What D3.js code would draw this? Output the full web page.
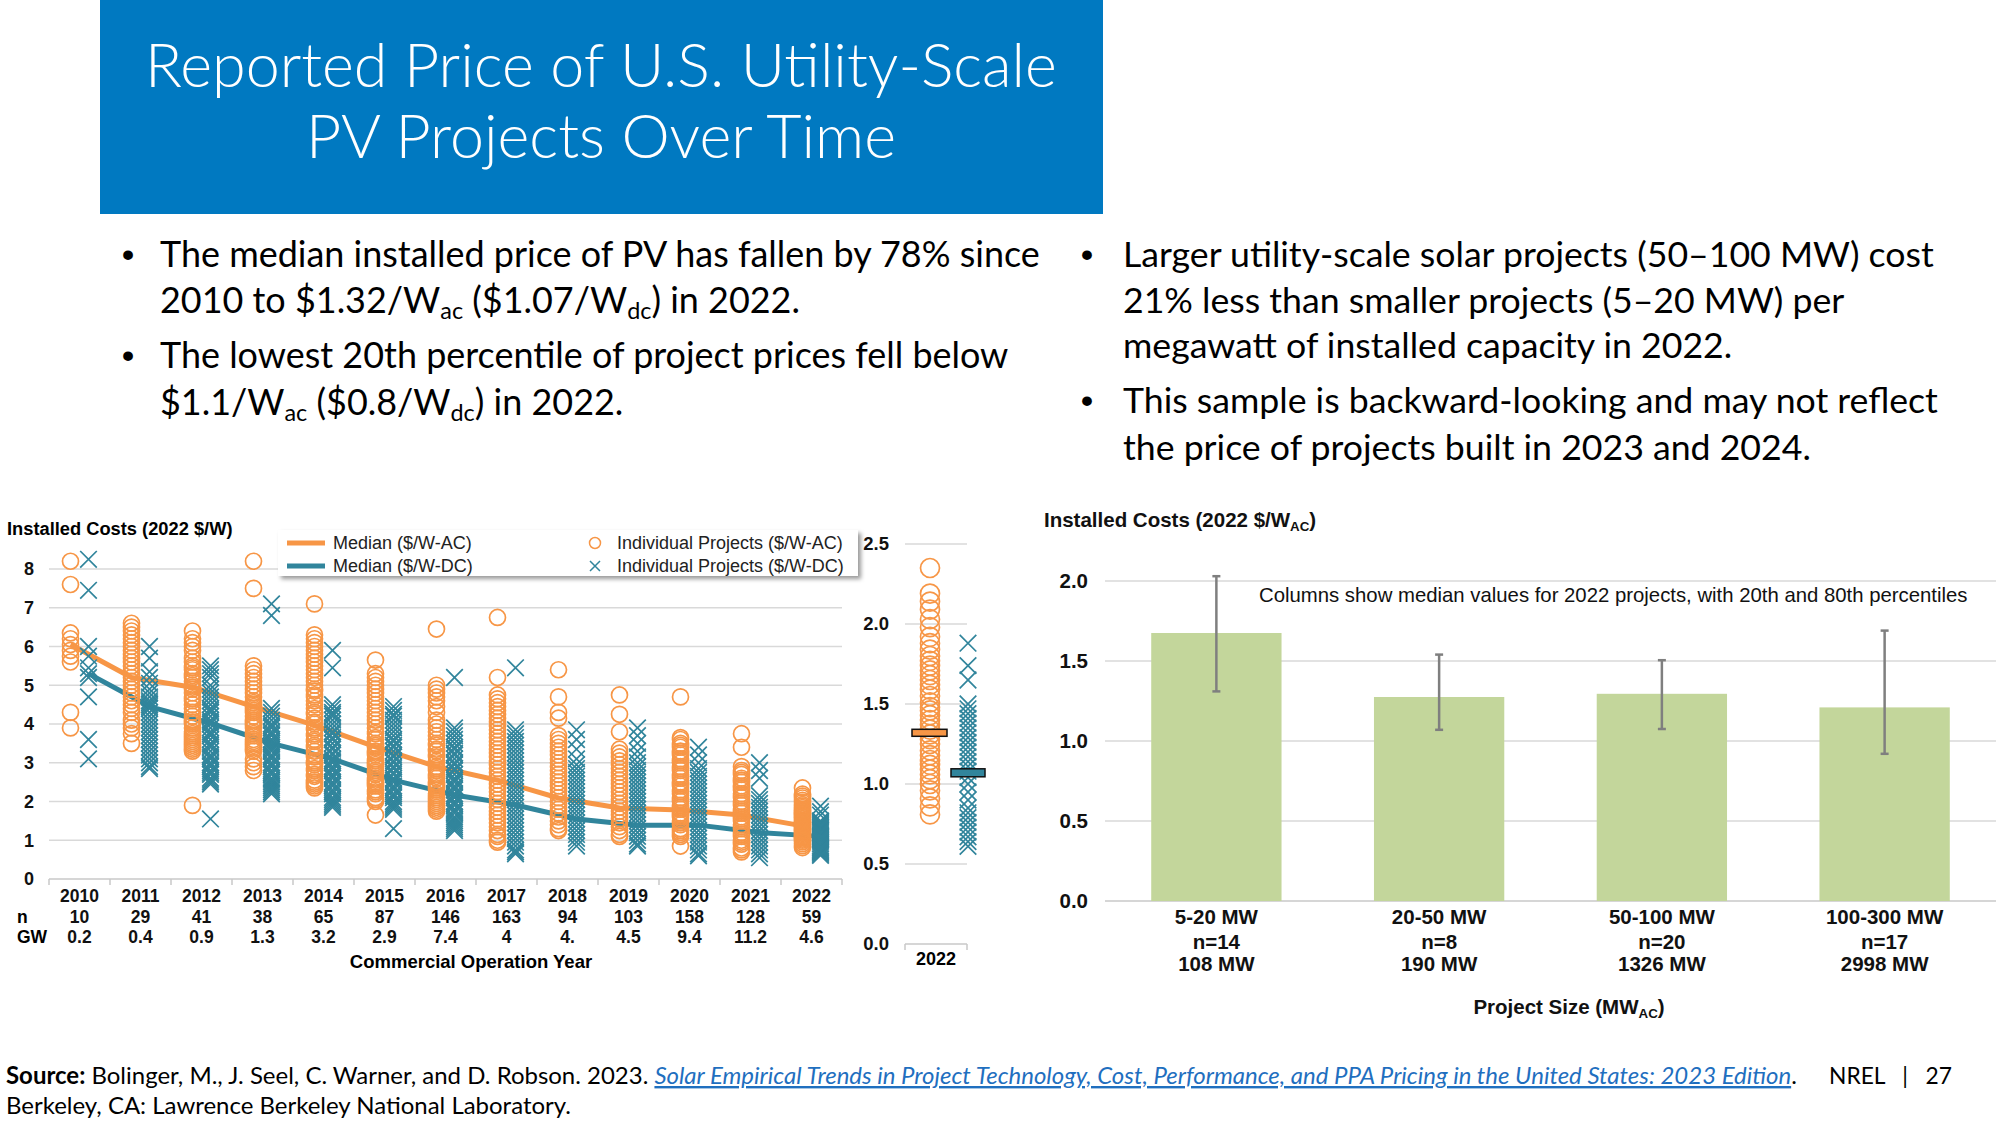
<!DOCTYPE html>
<html><head><meta charset="utf-8">
<script src="https://cdn.jsdelivr.net/npm/d3@7"></script>
<style>body{margin:0;background:#fff;} svg{display:block;}</style>
</head><body>
<script>
// ---------------- DATA ----------------
const titleLines = ["Reported Price of U.S. Utility-Scale", "PV Projects Over Time"];

const years = [2010, 2011, 2012, 2013, 2014, 2015, 2016, 2017, 2018, 2019, 2020, 2021, 2022];
const nCounts = ["10", "29", "41", "38", "65", "87", "146", "163", "94", "103", "158", "128", "59"];
const gwLabels = ["0.2", "0.4", "0.9", "1.3", "3.2", "2.9", "7.4", "4", "4.", "4.5", "9.4", "11.2", "4.6"];
const medianAC = [6.05, 5.2, 4.95, 4.45, 3.97, 3.41, 2.9, 2.55, 2.09, 1.83, 1.78, 1.65, 1.37];
const medianDC = [5.3, 4.45, 4.02, 3.5, 3.1, 2.55, 2.17, 1.91, 1.55, 1.39, 1.39, 1.2, 1.1];
const leftTicks = [0, 1, 2, 3, 4, 5, 6, 7, 8];

const projectsAC = [
  [8.2, 7.6, 6.35, 6.2, 6.05, 5.9, 5.75, 5.6, 4.3, 3.9],
  [6.6, 6.5, 6.4, 6.3, 6.2, 6.1, 6.0, 5.9, 5.8, 5.7, 5.6, 5.5, 5.4, 5.3, 5.2, 5.1, 5.0, 4.9, 4.8, 4.7, 4.6, 4.5, 4.4, 4.3, 4.1, 4.0, 3.9, 3.75, 3.5],
  [6.4, 6.2, 6.1, 6.0, 5.9, 5.7, 5.6, 5.5, 5.45, 5.4, 5.3, 5.25, 5.2, 5.1, 5.0, 4.95, 4.9, 4.8, 4.7, 4.65, 4.6, 4.5, 4.4, 4.3, 4.2, 4.1, 4.05, 4.0, 3.9, 3.8, 3.75, 3.7, 3.65, 3.6, 3.55, 3.5, 3.45, 3.4, 3.35, 3.3, 1.9],
  [8.2, 7.5, 5.5, 5.4, 5.3, 5.2, 5.1, 5.0, 4.9, 4.8, 4.7, 4.6, 4.55, 4.5, 4.45, 4.4, 4.35, 4.3, 4.2, 4.1, 4.05, 4.0, 3.95, 3.9, 3.8, 3.75, 3.7, 3.6, 3.55, 3.5, 3.45, 3.4, 3.35, 3.3, 3.1, 3.0, 2.9, 2.8],
  [7.1, 6.3, 6.2, 6.1, 6.0, 5.9, 5.8, 5.7, 5.6, 5.5, 5.4, 5.3, 5.2, 5.1, 5.0, 4.9, 4.85, 4.75, 4.7, 4.6, 4.5, 4.4, 4.3, 4.25, 4.15, 4.05, 4.0, 3.9, 3.85, 3.75, 3.7, 3.6, 3.55, 3.45, 3.4, 3.3, 3.2, 3.15, 3.05, 3.0, 2.95, 2.85, 2.8, 2.7, 2.65, 2.55, 2.5, 2.45, 2.4, 2.35],
  [5.65, 5.3, 5.2, 5.1, 5.0, 4.9, 4.8, 4.7, 4.6, 4.5, 4.4, 4.3, 4.2, 4.1, 4.0, 3.9, 3.8, 3.75, 3.65, 3.6, 3.5, 3.45, 3.4, 3.3, 3.25, 3.2, 3.1, 3.05, 3.0, 2.95, 2.9, 2.8, 2.75, 2.7, 2.6, 2.55, 2.5, 2.45, 2.4, 2.3, 2.25, 2.2, 2.1, 2.05, 2.0, 1.65],
  [6.45, 5.0, 4.9, 4.8, 4.7, 4.6, 4.45, 4.3, 4.1, 4.0, 3.9, 3.8, 3.7, 3.6, 3.5, 3.45, 3.35, 3.3, 3.2, 3.15, 3.05, 3.0, 2.9, 2.85, 2.8, 2.7, 2.65, 2.6, 2.5, 2.45, 2.4, 2.35, 2.3, 2.2, 2.15, 2.1, 2.05, 2.0, 1.95, 1.9, 1.85, 1.8, 1.75],
  [6.75, 5.2, 4.75, 4.65, 4.55, 4.45, 4.35, 4.25, 4.15, 4.05, 3.95, 3.85, 3.75, 3.65, 3.55, 3.45, 3.35, 3.25, 3.15, 3.05, 2.95, 2.85, 2.75, 2.65, 2.55, 2.45, 2.35, 2.25, 2.15, 2.05, 1.95, 1.85, 1.75, 1.65, 1.55, 1.45, 1.35, 1.25, 1.15, 1.1, 1.0, 0.95],
  [5.4, 4.7, 4.3, 4.15, 3.7, 3.6, 3.5, 3.4, 3.3, 3.2, 3.1, 3.0, 2.9, 2.8, 2.7, 2.6, 2.5, 2.4, 2.3, 2.2, 2.1, 2.0, 1.9, 1.8, 1.7, 1.6, 1.5, 1.4, 1.3, 1.25],
  [4.75, 4.25, 3.8, 3.35, 3.25, 3.15, 3.05, 2.95, 2.85, 2.75, 2.65, 2.55, 2.45, 2.35, 2.25, 2.15, 2.05, 1.95, 1.85, 1.75, 1.65, 1.55, 1.45, 1.35, 1.25, 1.15, 1.1],
  [4.7, 3.65, 3.6, 3.5, 3.45, 3.4, 3.3, 3.25, 3.2, 3.1, 3.05, 3.0, 2.9, 2.85, 2.8, 2.7, 2.65, 2.6, 2.5, 2.45, 2.4, 2.3, 2.25, 2.2, 2.1, 2.05, 2.0, 1.9, 1.85, 1.8, 1.7, 1.65, 1.6, 1.5, 1.45, 1.4, 1.3, 1.25, 1.2, 1.15, 1.1, 0.85],
  [3.75, 3.4, 2.9, 2.8, 2.75, 2.7, 2.6, 2.55, 2.5, 2.4, 2.35, 2.3, 2.2, 2.15, 2.1, 2.0, 1.95, 1.9, 1.8, 1.75, 1.7, 1.6, 1.55, 1.5, 1.4, 1.35, 1.3, 1.2, 1.15, 1.1, 1.0, 0.95, 0.9, 0.8, 0.75, 0.7],
  [2.35, 2.19, 2.14, 2.09, 2.03, 1.98, 1.92, 1.88, 1.84, 1.8, 1.77, 1.74, 1.71, 1.68, 1.65, 1.62, 1.59, 1.55, 1.51, 1.48, 1.46, 1.43, 1.4, 1.37, 1.34, 1.31, 1.28, 1.25, 1.21, 1.18, 1.15, 1.12, 1.09, 1.06, 1.03, 1.0, 0.96, 0.91, 0.86, 0.81]
];
const projectsDC = [
  [8.25, 7.45, 6.0, 5.75, 5.45, 5.3, 5.2, 4.7, 3.6, 3.1],
  [6.0, 5.7, 5.35, 5.2, 5.05, 4.9, 4.8, 4.7, 4.6, 4.55, 4.5, 4.45, 4.4, 4.3, 4.2, 4.1, 4.0, 3.9, 3.8, 3.7, 3.6, 3.5, 3.4, 3.3, 3.2, 3.1, 3.0, 2.9, 2.85],
  [5.5, 5.4, 5.3, 5.2, 5.0, 4.9, 4.8, 4.7, 4.6, 4.5, 4.4, 4.35, 4.3, 4.2, 4.1, 4.05, 4.0, 3.9, 3.8, 3.75, 3.7, 3.6, 3.5, 3.45, 3.4, 3.3, 3.2, 3.15, 3.1, 3.0, 2.95, 2.9, 2.8, 2.75, 2.7, 2.6, 2.55, 2.5, 2.45, 1.55],
  [7.1, 6.8, 4.4, 4.3, 4.2, 4.1, 4.0, 3.95, 3.9, 3.8, 3.75, 3.7, 3.6, 3.55, 3.5, 3.45, 3.4, 3.35, 3.3, 3.2, 3.15, 3.1, 3.0, 2.95, 2.9, 2.8, 2.75, 2.7, 2.6, 2.55, 2.5, 2.45, 2.4, 2.35, 2.3, 2.25, 2.2],
  [5.9, 5.45, 4.5, 4.4, 4.3, 4.25, 4.2, 4.1, 4.0, 3.9, 3.8, 3.75, 3.65, 3.6, 3.5, 3.4, 3.35, 3.25, 3.2, 3.1, 3.05, 3.0, 2.9, 2.85, 2.8, 2.7, 2.65, 2.6, 2.5, 2.45, 2.4, 2.3, 2.25, 2.2, 2.1, 2.05, 2.0, 1.95, 1.9, 1.85],
  [4.45, 4.35, 4.25, 4.2, 4.1, 4.0, 3.9, 3.8, 3.7, 3.6, 3.55, 3.45, 3.4, 3.3, 3.2, 3.15, 3.05, 3.0, 2.9, 2.85, 2.75, 2.7, 2.6, 2.55, 2.5, 2.4, 2.35, 2.3, 2.2, 2.15, 2.1, 2.0, 1.95, 1.9, 1.85, 1.8, 1.3],
  [5.2, 3.9, 3.8, 3.7, 3.6, 3.5, 3.4, 3.35, 3.25, 3.2, 3.1, 3.0, 2.95, 2.85, 2.8, 2.7, 2.6, 2.55, 2.5, 2.4, 2.35, 2.3, 2.2, 2.15, 2.1, 2.0, 1.95, 1.9, 1.8, 1.75, 1.7, 1.6, 1.55, 1.5, 1.45, 1.4, 1.35, 1.3, 1.25],
  [5.45, 3.85, 3.75, 3.65, 3.55, 3.45, 3.35, 3.25, 3.15, 3.05, 2.95, 2.85, 2.75, 2.65, 2.55, 2.45, 2.35, 2.25, 2.15, 2.05, 1.95, 1.85, 1.75, 1.65, 1.55, 1.45, 1.35, 1.25, 1.15, 1.05, 0.95, 0.85, 0.75, 0.7, 0.65],
  [3.85, 3.6, 3.35, 3.1, 2.95, 2.85, 2.75, 2.65, 2.55, 2.45, 2.35, 2.25, 2.15, 2.05, 1.95, 1.85, 1.75, 1.65, 1.55, 1.45, 1.35, 1.25, 1.15, 1.05, 0.95, 0.85],
  [3.9, 3.7, 3.5, 3.3, 3.15, 3.0, 2.9, 2.8, 2.7, 2.6, 2.5, 2.4, 2.3, 2.2, 2.1, 2.0, 1.9, 1.8, 1.7, 1.6, 1.5, 1.4, 1.3, 1.2, 1.1, 1.0, 0.9, 0.85],
  [3.4, 3.2, 3.0, 2.85, 2.75, 2.65, 2.55, 2.45, 2.35, 2.25, 2.15, 2.05, 1.95, 1.85, 1.75, 1.65, 1.55, 1.45, 1.35, 1.25, 1.15, 1.05, 0.95, 0.85, 0.75, 0.65, 0.6],
  [3.0, 2.8, 2.6, 2.15, 2.05, 1.95, 1.85, 1.75, 1.65, 1.55, 1.45, 1.35, 1.25, 1.15, 1.05, 0.95, 0.85, 0.75, 0.65, 0.55],
  [1.88, 1.74, 1.65, 1.5, 1.47, 1.44, 1.41, 1.38, 1.35, 1.32, 1.29, 1.26, 1.23, 1.2, 1.17, 1.14, 1.11, 1.08, 1.04, 1.0, 0.95, 0.9, 0.85, 0.82, 0.79, 0.76, 0.73, 0.7, 0.67, 0.64, 0.61]
];

const insetTicks = [0, 0.5, 1.0, 1.5, 2.0, 2.5];
const insetMedians = [1.32, 1.07]; // AC, DC for 2022

const sizeCats = ["5-20 MW", "20-50 MW", "50-100 MW", "100-300 MW"];
const sizeN = ["n=14", "n=8", "n=20", "n=17"];
const sizeMW = ["108 MW", "190 MW", "1326 MW", "2998 MW"];
const sizeMedian = [1.675, 1.275, 1.295, 1.21];
const sizeP20 = [1.31, 1.07, 1.075, 0.92];
const sizeP80 = [2.03, 1.54, 1.505, 1.69];
const rightTicks = [0, 0.5, 1.0, 1.5, 2.0];

// ---------------- DRAW ----------------
const W = 2000, H = 1125;
const ORANGE = "#F79646", TEAL = "#31859C", GRID = "#D9D9D9";
const CF = "'Liberation Sans', Arial, sans-serif";
const TF = "Lato, 'Open Sans', sans-serif";

const svg = d3.select("body").append("svg").attr("width", W).attr("height", H);
svg.append("rect").attr("width", W).attr("height", H).attr("fill", "#fff");
const defs = svg.append("defs");
const f = defs.append("filter").attr("id", "shadow").attr("x", "-5%").attr("y", "-30%").attr("width", "115%").attr("height", "180%");
f.append("feDropShadow").attr("dx", 3).attr("dy", 3).attr("stdDeviation", 2).attr("flood-color", "#000").attr("flood-opacity", 0.4);

function fitWidth(sel, w) {
  const l = sel.node().getComputedTextLength();
  const fs = +sel.attr("font-size");
  const nf = fs * w / l;
  sel.attr("font-size", nf);
  return nf;
}
function richLine(x, y, parts, fs, family, fill) {
  const t = svg.append("text").attr("x", x).attr("y", y).attr("font-family", family)
    .attr("font-size", fs).attr("fill", fill || "#000");
  let pending = false;
  parts.forEach(p => {
    if (typeof p === "string") p = { t: p };
    const ts = t.append("tspan");
    if (p.sub) {
      ts.attr("font-size", "65%").attr("dy", "0.25em").text(p.sub);
      pending = true;
      return;
    }
    if (pending) { ts.attr("dy", "-0.1625em"); pending = false; }
    if (p.b) ts.attr("font-weight", "bold");
    if (p.link) ts.attr("font-style", "italic").attr("fill", "#1F6FBF").attr("text-decoration", "underline");
    ts.text(p.t || p.b || p.link);
  });
  return t;
}

// Title
svg.append("rect").attr("x", 100).attr("y", 0).attr("width", 1003).attr("height", 214).attr("fill", "#0079C1");
const t1 = svg.append("text").attr("x", 601).attr("y", 87).attr("text-anchor", "middle").attr("fill", "#fff")
  .attr("font-family", TF).attr("font-weight", 300).attr("font-size", 60).text(titleLines[0]);
const tfs = fitWidth(t1, 912);
svg.append("text").attr("x", 601).attr("y", 158).attr("text-anchor", "middle").attr("fill", "#fff")
  .attr("font-family", TF).attr("font-weight", 300).attr("font-size", tfs).text(titleLines[1]);

// Bullets left
const bl1 = richLine(160, 267, ["The median installed price of PV has fallen by 78% since"], 36, TF);
const bfs = fitWidth(bl1, 880);
richLine(160, 313, ["2010 to $1.32/W", { sub: "ac" }, " ($1.07/W", { sub: "dc" }, ") in 2022."], bfs, TF);
richLine(160, 368, ["The lowest 20th percentile of project prices fell below"], bfs, TF);
richLine(160, 415, ["$1.1/W", { sub: "ac" }, " ($0.8/W", { sub: "dc" }, ") in 2022."], bfs, TF);
[267, 368].forEach(y => svg.append("text").attr("x", 128).attr("y", y).attr("text-anchor", "middle")
  .attr("font-family", "Arial, 'Liberation Sans'").attr("font-size", bfs).text("•"));

// Bullets right
const br1 = richLine(1123, 267, ["Larger utility-scale solar projects (50–100 MW) cost"], 36, TF);
const rfs = fitWidth(br1, 811);
richLine(1123, 313, ["21% less than smaller projects (5–20 MW) per"], rfs, TF);
richLine(1123, 358, ["megawatt of installed capacity in 2022."], rfs, TF);
richLine(1123, 413, ["This sample is backward-looking and may not reflect"], rfs, TF);
richLine(1123, 460, ["the price of projects built in 2023 and 2024."], rfs, TF);
[267, 413].forEach(y => svg.append("text").attr("x", 1087).attr("y", y).attr("text-anchor", "middle")
  .attr("font-family", "Arial, 'Liberation Sans'").attr("font-size", rfs).text("•"));

// Footer
const fl = richLine(6, 1084, [{ b: "Source:" }, " Bolinger, M., J. Seel, C. Warner, and D. Robson. 2023. ",
  { link: "Solar Empirical Trends in Project Technology, Cost, Performance, and PPA Pricing in the United States: 2023 Edition" }, "."], 22, TF);
const ffs = fitWidth(fl, 1791);
richLine(6, 1114, ["Berkeley, CA: Lawrence Berkeley National Laboratory."], ffs, TF);
richLine(1829, 1084, ["NREL   |   27"], ffs * 0.95, TF).attr("xml:space", "preserve").style("white-space", "pre");

// ---------- Left chart ----------
const gL = svg.append("g");
const xL = d3.scaleBand().domain(years).range([49, 842]);
const cx = y => xL(y) + xL.bandwidth() / 2;
const yL = d3.scaleLinear().domain([0, 8]).range([879, 569]);
const offAC = -9, offDC = 9;

gL.selectAll("line.grid").data(leftTicks.filter(d => d > 0)).join("line")
  .attr("x1", 49).attr("x2", 842).attr("y1", d => yL(d)).attr("y2", d => yL(d))
  .attr("stroke", GRID).attr("stroke-width", 1.5);
gL.append("line").attr("x1", 49).attr("x2", 842).attr("y1", yL(0)).attr("y2", yL(0)).attr("stroke", "#C8C8C8").attr("stroke-width", 1.5);
gL.selectAll("line.tk").data([...years.map(y => xL(y)), 842]).join("line")
  .attr("x1", d => d).attr("x2", d => d).attr("y1", yL(0)).attr("y2", yL(0) + 6).attr("stroke", "#C8C8C8").attr("stroke-width", 1.5);

const yAxL = d3.axisLeft(yL).tickValues(leftTicks).tickSize(0).tickPadding(0).tickFormat(d3.format("d"));
gL.append("g").attr("transform", "translate(34,0)").call(yAxL).call(g => g.select(".domain").remove())
  .selectAll("text").attr("font-family", CF).attr("font-size", 18).attr("font-weight", "bold").attr("fill", "#111");

gL.append("text").attr("x", 7).attr("y", 535).attr("font-family", CF).attr("font-weight", "bold").attr("font-size", 18.3)
  .text("Installed Costs (2022 $/W)");

// category labels
const rows = [[years.map(String), 902], [nCounts, 923], [gwLabels, 943]];
rows.forEach(([labels, y]) => {
  gL.selectAll(null).data(labels).join("text").attr("x", (d, i) => cx(years[i])).attr("y", y)
    .attr("text-anchor", "middle").attr("font-family", CF).attr("font-weight", "bold").attr("font-size", 17.5).attr("fill", "#111").text(d => d);
});
gL.append("text").attr("x", 17).attr("y", 923).attr("font-family", CF).attr("font-weight", "bold").attr("font-size", 17.5).text("n");
gL.append("text").attr("x", 17).attr("y", 943).attr("font-family", CF).attr("font-weight", "bold").attr("font-size", 17.5).text("GW");
gL.append("text").attr("x", 471).attr("y", 968).attr("text-anchor", "middle").attr("font-family", CF).attr("font-weight", "bold").attr("font-size", 18.5).text("Commercial Operation Year");

// median lines (behind markers)
const lineAC = d3.line().x((d, i) => cx(years[i]) + offAC).y(d => yL(d));
const lineDC = d3.line().x((d, i) => cx(years[i]) + offDC).y(d => yL(d));
gL.append("path").attr("d", lineAC(medianAC)).attr("fill", "none").attr("stroke", ORANGE).attr("stroke-width", 5).attr("stroke-linejoin", "round");
gL.append("path").attr("d", lineDC(medianDC)).attr("fill", "none").attr("stroke", TEAL).attr("stroke-width", 5).attr("stroke-linejoin", "round");

const crossPath = s => `M${-s},${-s}L${s},${s}M${-s},${s}L${s},${-s}`;
years.forEach((yr, i) => {
  gL.append("g").selectAll("path").data(projectsDC[i]).join("path")
    .attr("transform", d => `translate(${cx(yr) + offDC},${yL(d)})`).attr("d", crossPath(8.3))
    .attr("stroke", TEAL).attr("stroke-width", 1.7).attr("fill", "none");
  gL.append("g").selectAll("circle").data(projectsAC[i]).join("circle")
    .attr("cx", cx(yr) + offAC).attr("cy", d => yL(d)).attr("r", 8)
    .attr("fill", "none").attr("stroke", ORANGE).attr("stroke-width", 1.7);
});

// legend
const lg = gL.append("g");
lg.append("rect").attr("x", 278).attr("y", 530).attr("width", 580).attr("height", 46).attr("fill", "#fff").attr("filter", "url(#shadow)");
const legItems = [
  { x: 287, y: 543, type: "line", c: ORANGE, t: "Median ($/W-AC)" },
  { x: 287, y: 566, type: "line", c: TEAL, t: "Median ($/W-DC)" },
  { x: 595, y: 543, type: "circle", c: ORANGE, t: "Individual Projects ($/W-AC)" },
  { x: 595, y: 566, type: "cross", c: TEAL, t: "Individual Projects ($/W-DC)" }
];
legItems.forEach(it => {
  if (it.type === "line") {
    lg.append("line").attr("x1", it.x).attr("x2", it.x + 38).attr("y1", it.y).attr("y2", it.y).attr("stroke", it.c).attr("stroke-width", 5);
    lg.append("text").attr("x", it.x + 46).attr("y", it.y).attr("dy", "0.35em").attr("font-family", CF).attr("font-size", 18).attr("fill", "#222").text(it.t);
  } else {
    if (it.type === "circle") lg.append("circle").attr("cx", it.x).attr("cy", it.y).attr("r", 5.5).attr("fill", "none").attr("stroke", it.c).attr("stroke-width", 1.5);
    else lg.append("path").attr("transform", `translate(${it.x},${it.y})`).attr("d", crossPath(5)).attr("stroke", it.c).attr("stroke-width", 1.5);
    lg.append("text").attr("x", it.x + 22).attr("y", it.y).attr("dy", "0.35em").attr("font-family", CF).attr("font-size", 18).attr("fill", "#222").text(it.t);
  }
});

// ---------- Inset 2022 ----------
const gI = svg.append("g");
const y2 = d3.scaleLinear().domain([0, 2.5]).range([944, 544]);
const xI = d3.scaleBand().domain(["AC", "DC"]).range([911, 987]);
const ixc = k => xI(k) + xI.bandwidth() / 2;
gI.selectAll("line.grid").data(insetTicks.filter(d => d > 0)).join("line")
  .attr("x1", 905).attr("x2", 967).attr("y1", d => y2(d)).attr("y2", d => y2(d)).attr("stroke", GRID).attr("stroke-width", 1.5);
gI.append("line").attr("x1", 905).attr("x2", 967).attr("y1", y2(0)).attr("y2", y2(0)).attr("stroke", "#C8C8C8").attr("stroke-width", 1.5);
[905, 967].forEach(x => gI.append("line").attr("x1", x).attr("x2", x).attr("y1", y2(0)).attr("y2", y2(0) + 6).attr("stroke", "#C8C8C8").attr("stroke-width", 1.5));
gI.append("g").attr("transform", "translate(889,0)")
  .call(d3.axisLeft(y2).tickValues(insetTicks).tickSize(0).tickPadding(0).tickFormat(d3.format(".1f")))
  .call(g => g.select(".domain").remove())
  .selectAll("text").attr("font-family", CF).attr("font-size", 18.5).attr("font-weight", "bold").attr("fill", "#111");
gI.append("text").attr("x", 936).attr("y", 965).attr("text-anchor", "middle").attr("font-family", CF).attr("font-weight", "bold").attr("font-size", 18).text("2022");
gI.append("g").selectAll("path").data(projectsDC[12]).join("path")
  .attr("transform", d => `translate(${ixc("DC")},${y2(d)})`).attr("d", crossPath(8.3))
  .attr("stroke", TEAL).attr("stroke-width", 1.7).attr("fill", "none");
gI.append("g").selectAll("circle").data(projectsAC[12]).join("circle")
  .attr("cx", ixc("AC")).attr("cy", d => y2(d)).attr("r", 9.5)
  .attr("fill", "none").attr("stroke", ORANGE).attr("stroke-width", 1.7);
gI.append("rect").attr("x", ixc("AC") - 18).attr("y", y2(insetMedians[0]) - 3.5).attr("width", 35).attr("height", 7)
  .attr("fill", ORANGE).attr("stroke", "#111").attr("stroke-width", 1.5);
gI.append("rect").attr("x", ixc("DC") - 17).attr("y", y2(insetMedians[1]) - 4).attr("width", 34).attr("height", 8)
  .attr("fill", TEAL).attr("stroke", "#111").attr("stroke-width", 1.5);

// ---------- Right chart ----------
const RFS = 20.5;
const gR = svg.append("g");
const xB = d3.scaleBand().domain(sizeCats).range([1105, 1996]).paddingInner(0.415).paddingOuter(0.2075);
const yB = d3.scaleLinear().domain([0, 2]).range([901, 581]);
gR.selectAll("line.grid").data(rightTicks.filter(d => d > 0)).join("line")
  .attr("x1", 1105).attr("x2", 1996).attr("y1", d => yB(d)).attr("y2", d => yB(d)).attr("stroke", GRID).attr("stroke-width", 1.5);
gR.append("line").attr("x1", 1105).attr("x2", 1996).attr("y1", yB(0)).attr("y2", yB(0)).attr("stroke", "#C8C8C8").attr("stroke-width", 1.5);
gR.append("g").attr("transform", "translate(1088,0)")
  .call(d3.axisLeft(yB).tickValues(rightTicks).tickSize(0).tickPadding(0).tickFormat(d3.format(".1f")))
  .call(g => g.select(".domain").remove())
  .selectAll("text").attr("font-family", CF).attr("font-size", RFS).attr("font-weight", "bold").attr("fill", "#111");
gR.selectAll("rect.bar").data(sizeMedian).join("rect")
  .attr("x", (d, i) => xB(sizeCats[i])).attr("width", xB.bandwidth())
  .attr("y", d => yB(d)).attr("height", d => yB(0) - yB(d)).attr("fill", "#C3D69B");
sizeCats.forEach((c, i) => {
  const x = xB(c) + xB.bandwidth() / 2;
  gR.append("line").attr("x1", x).attr("x2", x).attr("y1", yB(sizeP80[i])).attr("y2", yB(sizeP20[i])).attr("stroke", "#7F7F7F").attr("stroke-width", 2.5);
  [sizeP80[i], sizeP20[i]].forEach(v => gR.append("line").attr("x1", x - 4).attr("x2", x + 4).attr("y1", yB(v)).attr("y2", yB(v)).attr("stroke", "#7F7F7F").attr("stroke-width", 2.5));
  [[sizeCats, 924], [sizeN, 949], [sizeMW, 971]].forEach(([arr, y]) =>
    gR.append("text").attr("x", x).attr("y", y).attr("text-anchor", "middle").attr("font-family", CF).attr("font-weight", "bold").attr("font-size", RFS).attr("fill", "#111").text(arr[i]));
});
const ann = gR.append("text").attr("x", 1259).attr("y", 602).attr("font-family", CF).attr("font-size", 19).attr("fill", "#111")
  .text("Columns show median values for 2022 projects, with 20th and 80th percentiles");
fitWidth(ann, 709);
const rt = gR.append("text").attr("x", 1044).attr("y", 527).attr("font-family", CF).attr("font-weight", "bold").attr("font-size", RFS).attr("fill", "#111");
rt.append("tspan").text("Installed Costs (2022 $/W");
rt.append("tspan").attr("font-size", "65%").attr("dy", "0.3em").text("AC");
rt.append("tspan").attr("dy", "-0.195em").text(")");
const xt = gR.append("text").attr("x", 1569).attr("y", 1014).attr("text-anchor", "middle").attr("font-family", CF).attr("font-weight", "bold").attr("font-size", RFS).attr("fill", "#111");
xt.append("tspan").text("Project Size (MW");
xt.append("tspan").attr("font-size", "65%").attr("dy", "0.3em").text("AC");
xt.append("tspan").attr("dy", "-0.195em").text(")");
</script>
</body></html>
